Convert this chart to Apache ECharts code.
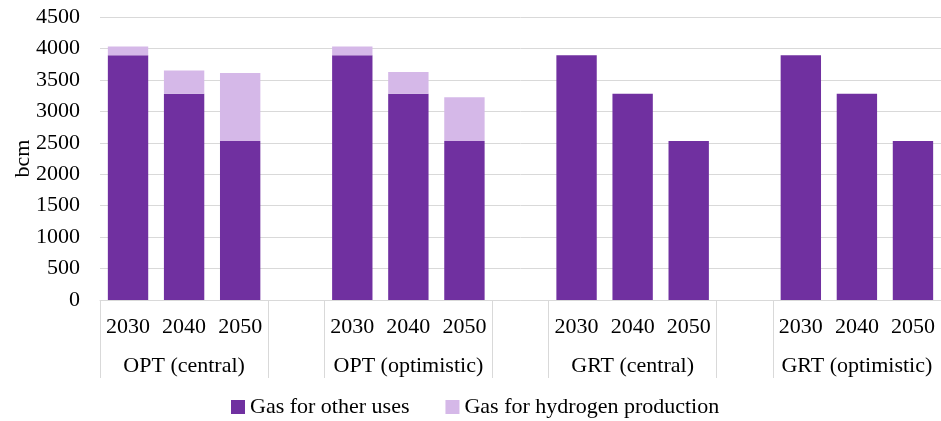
<!DOCTYPE html>
<html>
<head>
    <meta charset="UTF-8">
    <title>Gas demand by scenario</title>
    <script src="https://cdn.jsdelivr.net/npm/echarts/dist/echarts.min.js"></script>
    <style>
        html, body { margin: 0; padding: 0; background: #fff; }
        #chart { width: 941px; height: 421px; }
    </style>
</head>
<body>
    <div id="chart"></div>
    <script type="text/javascript">
        // years per scenario, '' = spacer column between groups
        var years = ['2030', '2040', '2050', '', '2030', '2040', '2050', '', '2030', '2040', '2050', '', '2030', '2040', '2050'];
        var groups = ['OPT (central)', 'OPT (optimistic)', 'GRT (central)', 'GRT (optimistic)'];
        var otherUses = [3890, 3280, 2530, null, 3890, 3280, 2530, null, 3890, 3280, 2530, null, 3890, 3280, 2530];
        var hydrogen = [140, 370, 1080, null, 140, 345, 695, null, 0, 0, 0, null, 0, 0, 0];
        var yTicks = [0, 4500, 500];

        // group names sit under the middle year of each block
        var groupLabels = years.map(function (y, i) {
            return (i % 4 === 1) ? groups[Math.floor(i / 4)] : '';
        });

        var font = 'Liberation Serif';
        var fs = 22;
        var chart = echarts.init(document.getElementById('chart'));

        var option = {
            animation: false,
            grid: { left: 100, right: 0, top: 17, bottom: 121, outerBoundsMode: 'none', containLabel: false },
            legend: {
                top: 396,
                left: 231,
                padding: 0,
                itemWidth: 14,
                itemHeight: 14,
                itemGap: 36,
                icon: 'rect',
                textStyle: { fontFamily: font, fontSize: fs, color: '#000' },
                data: ['Gas for other uses', 'Gas for hydrogen production']
            },
            xAxis: [{
                type: 'category',
                data: years,
                axisLine: { show: true, lineStyle: { color: '#d9d9d9' } },
                axisTick: {
                    show: true,
                    length: 78,
                    interval: function (i) { return i % 4 === 0 || i % 4 === 3; },
                    lineStyle: { color: '#d9d9d9', width: 1 }
                },
                axisLabel: { interval: 0, margin: 16, fontFamily: font, fontSize: fs, color: '#000' }
            }, {
                type: 'category',
                data: groupLabels,
                position: 'bottom',
                axisLine: { show: false },
                axisTick: { show: false },
                axisLabel: { interval: 0, margin: 55, fontFamily: font, fontSize: fs, color: '#000' }
            }],
            yAxis: {
                type: 'value',
                min: yTicks[0],
                max: yTicks[1],
                interval: yTicks[2],
                name: 'bcm',
                nameLocation: 'middle',
                nameGap: 66,
                nameMoveOverlap: false,
                nameRotate: 90,
                nameTextStyle: { fontFamily: font, fontSize: fs, color: '#000' },
                axisLine: { show: false },
                axisTick: { show: false },
                splitLine: { lineStyle: { color: '#d9d9d9', width: 1 } },
                axisLabel: {
                    margin: 20, fontFamily: font, fontSize: fs, color: '#000',
                    formatter: function (v) { return String(v); }
                }
            },
            series: [{
                name: 'Gas for other uses',
                type: 'bar',
                stack: 'gas',
                barWidth: '72%',
                itemStyle: { color: '#7030a0' },
                data: otherUses
            }, {
                name: 'Gas for hydrogen production',
                type: 'bar',
                stack: 'gas',
                barWidth: '72%',
                itemStyle: { color: '#d5b8e8' },
                data: hydrogen
            }]
        };

        chart.setOption(option);
    </script>
</body>
</html>
